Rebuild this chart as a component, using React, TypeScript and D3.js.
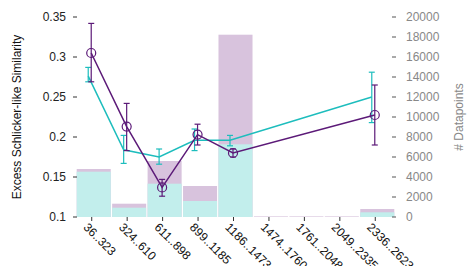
import { useEffect, useRef } from "react";
import * as d3 from "d3";

const categories = ["36..323", "324..610", "611..898", "899..1185", "1186..1473", "1474..1760", "1761..2048", "2049..2335", "2336..2623"];
// datapoint counts per bin (right axis)
const countAll = [4800, 1330, 5600, 3100, 18230, 60, 60, 60, 800];
const countSub = [4530, 930, 3330, 1600, 7270, 0, 0, 0, 470];
// similarity series (null = no point)
const cyanMean = [0.276, 0.184, 0.175, 0.196, 0.196, null, null, null, 0.25];
const cyanLo = [0.269, 0.167, 0.166, 0.183, 0.189, null, null, null, 0.218];
const cyanHi = [0.287, 0.202, 0.185, 0.21, 0.202, null, null, null, 0.281];
const purpleMean = [0.305, 0.213, 0.137, 0.203, 0.18, null, null, null, 0.2275];
const purpleLo = [0.269, 0.183, 0.126, 0.19, 0.175, null, null, null, 0.19];
const purpleHi = [0.342, 0.242, 0.147, 0.216, 0.185, null, null, null, 0.265];
const leftTicks = [0.1, 0.15, 0.2, 0.25, 0.3, 0.35];
const rightTicks = [0, 2000, 4000, 6000, 8000, 10000, 12000, 14000, 16000, 18000, 20000];

export default function App() {
    const ref = useRef<SVGSVGElement>(null);

    useEffect(() => {
        const svg = d3.select(ref.current);
        svg.selectAll("*").remove();

        const left = 76, right = 395, top = 17, bottom = 217;
        const font = "Liberation Sans, Arial, sans-serif";

        const x = d3.scaleBand().domain(categories).range([left, right]).paddingInner(0.04).paddingOuter(0.02);
        const y = d3.scaleLinear().domain([0.1, 0.35]).range([bottom, top]);
        const yR = d3.scaleLinear().domain([0, 20000]).range([bottom, top]);
        const center = (i: number) => (x(categories[i]) as number) + x.bandwidth() / 2;

        // bars: total in lavender, subset in light cyan on top
        svg.append("g").selectAll("rect").data(countAll).join("rect")
            .attr("x", (d, i) => x(categories[i]) as number)
            .attr("width", x.bandwidth())
            .attr("y", d => yR(d))
            .attr("height", d => bottom - yR(d))
            .attr("fill", "#d8c3dd");
        svg.append("g").selectAll("rect").data(countSub).join("rect")
            .attr("x", (d, i) => x(categories[i]) as number)
            .attr("width", x.bandwidth())
            .attr("y", d => yR(d))
            .attr("height", d => bottom - yR(d))
            .attr("fill", "#c2eeec");

        // left axis
        const gl = svg.append("g");
        leftTicks.forEach(t => {
            gl.append("line").attr("x1", 73).attr("x2", 77).attr("y1", y(t)).attr("y2", y(t)).attr("stroke", "#333");
            gl.append("text").attr("x", 66).attr("y", y(t)).attr("dy", "0.35em").attr("text-anchor", "end")
                .style("font-family", font).style("font-size", "12px").style("fill", "#222").text(String(t));
        });
        svg.append("text")
            .attr("transform", `translate(21,${(top + bottom) / 2}) rotate(-90)`)
            .attr("text-anchor", "middle")
            .style("font-family", font).style("font-size", "12px").style("fill", "#111")
            .text("Excess Schlicker-like Similarity");

        // right axis
        const gr = svg.append("g");
        rightTicks.forEach(t => {
            gr.append("line").attr("x1", 392).attr("x2", 396).attr("y1", yR(t)).attr("y2", yR(t)).attr("stroke", "#555");
            gr.append("text").attr("x", 406).attr("y", yR(t)).attr("dy", "0.35em").attr("text-anchor", "start")
                .style("font-family", font).style("font-size", "12px").style("fill", "#888").text(String(t));
        });
        svg.append("text")
            .attr("transform", `translate(463,${(top + bottom) / 2}) rotate(-90)`)
            .attr("text-anchor", "middle")
            .style("font-family", font).style("font-size", "12px").style("fill", "#888")
            .text("# Datapoints");

        // x axis ticks and rotated labels
        const gx = svg.append("g");
        categories.forEach((c, i) => {
            const cx = center(i) - 2;
            gx.append("line").attr("x1", cx).attr("x2", cx).attr("y1", bottom).attr("y2", bottom + 4).attr("stroke", "#333");
            gx.append("text")
                .attr("transform", `translate(${cx - 6},${bottom + 8}) rotate(45)`)
                .attr("text-anchor", "start")
                .attr("dy", "0.35em")
                .style("font-family", font).style("font-size", "12px").style("fill", "#111")
                .text(c);
        });

        const drawSeries = (mean: (number | null)[], lo: (number | null)[], hi: (number | null)[], dx: number, color: string, circles: boolean) => {
            const pts = mean.map((m, i) => ({ i, m, lo: lo[i], hi: hi[i] })).filter(p => p.m !== null) as { i: number, m: number, lo: number, hi: number }[];
            const line = d3.line<{ i: number, m: number }>().x(p => center(p.i) + dx).y(p => y(p.m));
            const g = svg.append("g");
            g.append("path").datum(pts).attr("d", line).attr("fill", "none").attr("stroke", color).attr("stroke-width", 1.5);
            pts.forEach(p => {
                const px = center(p.i) + dx;
                g.append("line").attr("x1", px).attr("x2", px).attr("y1", y(p.lo)).attr("y2", y(p.hi)).attr("stroke", color).attr("stroke-width", 1.2);
                g.append("line").attr("x1", px - 3).attr("x2", px + 3).attr("y1", y(p.lo)).attr("y2", y(p.lo)).attr("stroke", color).attr("stroke-width", 1.2);
                g.append("line").attr("x1", px - 3).attr("x2", px + 3).attr("y1", y(p.hi)).attr("y2", y(p.hi)).attr("stroke", color).attr("stroke-width", 1.2);
                if (circles) {
                    g.append("circle").attr("cx", px).attr("cy", y(p.m)).attr("r", 4.5)
                        .attr("fill", "none").attr("stroke", color).attr("stroke-width", 1.2);
                }
            });
        };

        drawSeries(cyanMean, cyanLo, cyanHi, -5.5, "#1dbdbd", false);
        drawSeries(purpleMean, purpleLo, purpleHi, -2.5, "#5c1a78", true);
    }, []);

    return (
        <svg ref={ref} width={467} height={266} style={{ position: "absolute", left: 0, top: 0, background: "#fff" }} />
    );
}
